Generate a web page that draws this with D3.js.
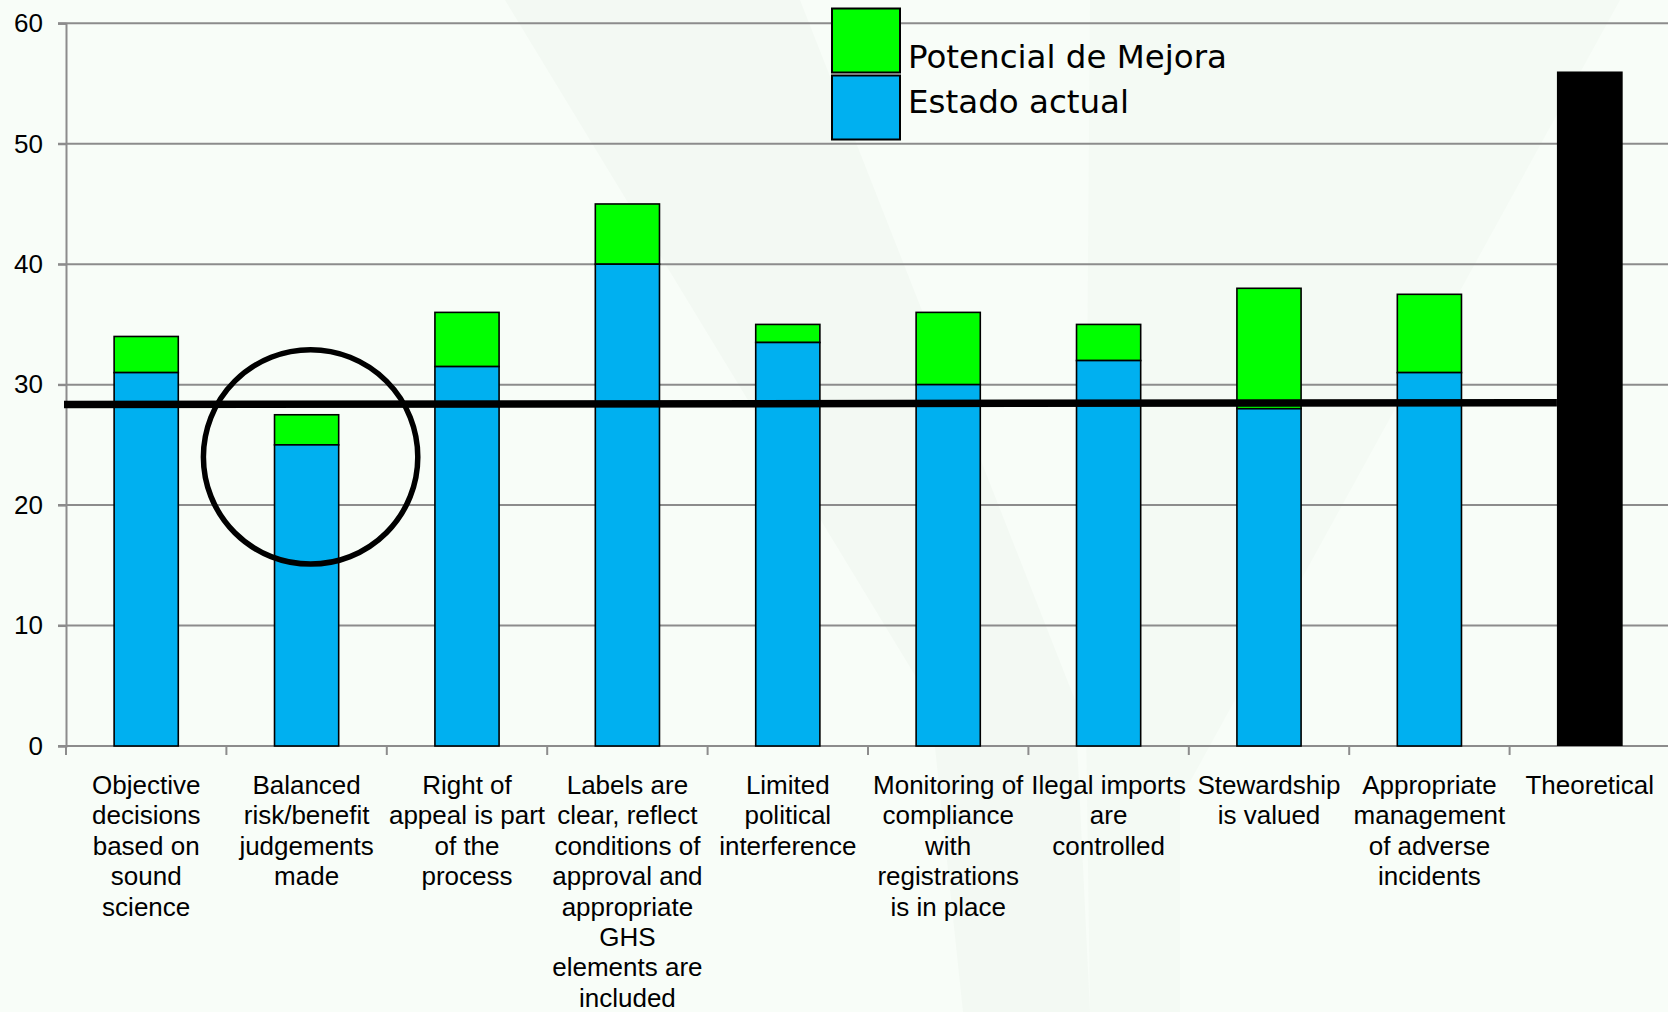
<!DOCTYPE html>
<html>
<head>
<meta charset="utf-8">
<script src="https://cdn.jsdelivr.net/npm/d3@7"></script>
<style>
  html, body { margin: 0; padding: 0; background: #f8fdf8; }
  svg { display: block; }
</style>
</head>
<body>
<svg id="chart" width="1668" height="1012"></svg>
<script>
// ---- data ----
const categories = [
  ["Objective", "decisions", "based on", "sound", "science"],
  ["Balanced", "risk/benefit", "judgements", "made"],
  ["Right of", "appeal is part", "of the", "process"],
  ["Labels are", "clear, reflect", "conditions of", "approval and", "appropriate", "GHS", "elements are", "included"],
  ["Limited", "political", "interference"],
  ["Monitoring of", "compliance", "with", "registrations", "is in place"],
  ["Ilegal imports", "are", "controlled"],
  ["Stewardship", "is valued"],
  ["Appropriate", "management", "of adverse", "incidents"],
  ["Theoretical"]
];
const estadoActual = [31, 25, 31.5, 40, 33.5, 30, 32, 28, 31, null];
const totalConMejora = [34, 27.5, 36, 45, 35, 36, 35, 38, 37.5, null];
const theoretical = [null, null, null, null, null, null, null, null, null, 56];
const yTicks = [0, 10, 20, 30, 40, 50, 60];
const legendLabels = ["Potencial de Mejora", "Estado actual"];
const referenceLine = [28.35, 28.5];   // value at start and end of the black line
const circleNote = { index: 1, value: 24, radius: 8.9 };

// ---- layout ----
const svg = d3.select("#chart");
const W = 1668, H = 1012;
const mLeft = 66, mTop = 23.3, mBottom = 746;
const bandW = 160.4;

// faint watermark
svg.append("path")
  .attr("d", "M505,0 L800,0 L1075,700 L1090,1012 L963,1012 L930,700 Z")
  .attr("fill", "#f3f9f3");
svg.append("path")
  .attr("d", "M1090,0 L1620,0 L1180,800 L1180,1012 L1090,1012 L1085,650 Z")
  .attr("fill", "#f4faf4");

const x = d3.scaleBand()
  .domain(d3.range(categories.length))
  .range([mLeft, mLeft + bandW * categories.length])
  .padding(0);
const y = d3.scaleLinear().domain([0, 60]).range([mBottom, mTop]);
const bw = x.bandwidth();

// gridlines
svg.append("g").selectAll("line")
  .data(yTicks.filter(t => t > 0))
  .join("line")
  .attr("x1", mLeft - 8).attr("x2", W)
  .attr("y1", d => y(d)).attr("y2", d => y(d))
  .attr("stroke", "#8c8c8c").attr("stroke-width", 2);

// y axis
const yAxis = svg.append("g")
  .attr("transform", `translate(${mLeft},0)`)
  .call(d3.axisLeft(y).tickValues(yTicks).tickSize(8).tickPadding(15));
yAxis.select(".domain").attr("stroke", "#8c8c8c").attr("stroke-width", 2);
yAxis.selectAll(".tick line").attr("stroke", "#8c8c8c").attr("stroke-width", 2);
yAxis.selectAll(".tick text")
  .attr("font-family", "'Liberation Sans', Arial, sans-serif")
  .attr("font-size", 26).attr("fill", "#000");

// x axis
const xAxis = svg.append("g").attr("transform", `translate(0,${mBottom})`);
xAxis.append("line").attr("x1", mLeft - 8).attr("x2", W)
  .attr("y1", 0).attr("y2", 0).attr("stroke", "#8c8c8c").attr("stroke-width", 2);
xAxis.selectAll("line.tk")
  .data(d3.range(categories.length))
  .join("line").attr("class", "tk")
  .attr("x1", d => x(d)).attr("x2", d => x(d))
  .attr("y1", 0).attr("y2", 9)
  .attr("stroke", "#8c8c8c").attr("stroke-width", 2);

const labels = svg.append("g")
  .attr("font-family", "'Liberation Sans', Arial, sans-serif")
  .attr("font-size", 26).attr("fill", "#000").attr("text-anchor", "middle");
categories.forEach((lines, i) => {
  const t = labels.append("text")
    .attr("x", x(i) + bw / 2)
    .attr("y", 794);
  lines.forEach((ln, k) => {
    t.append("tspan").attr("x", x(i) + bw / 2).attr("dy", k === 0 ? 0 : 30.4).text(ln);
  });
});

// bars
const barW = bw * 0.4;
const bars = svg.append("g");
// green (total)
bars.selectAll("rect.g")
  .data(totalConMejora.map((v, i) => ({ v, i })).filter(d => d.v != null))
  .join("rect").attr("class", "g")
  .attr("x", d => x(d.i) + (bw - barW) / 2)
  .attr("width", barW)
  .attr("y", d => y(d.v))
  .attr("height", d => y(estadoActual[d.i]) - y(d.v))
  .attr("fill", "#00ff00").attr("stroke", "#000").attr("stroke-width", 1.6);
// blue (estado actual)
bars.selectAll("rect.b")
  .data(estadoActual.map((v, i) => ({ v, i })).filter(d => d.v != null))
  .join("rect").attr("class", "b")
  .attr("x", d => x(d.i) + (bw - barW) / 2)
  .attr("width", barW)
  .attr("y", d => y(d.v))
  .attr("height", d => y(0) - y(d.v))
  .attr("fill", "#00b0f0").attr("stroke", "#000").attr("stroke-width", 1.6);
// theoretical
const thW = bw * 0.41;
bars.selectAll("rect.t")
  .data(theoretical.map((v, i) => ({ v, i })).filter(d => d.v != null))
  .join("rect").attr("class", "t")
  .attr("x", d => x(d.i) + (bw - thW) / 2)
  .attr("width", thW)
  .attr("y", d => y(d.v))
  .attr("height", d => y(0) - y(d.v))
  .attr("fill", "#000");

// reference line
const lineEndX = x(categories.length - 1) + (bw - thW) / 2;
svg.append("line")
  .attr("x1", mLeft - 2).attr("x2", lineEndX)
  .attr("y1", y(referenceLine[0])).attr("y2", y(referenceLine[1]))
  .attr("stroke", "#000").attr("stroke-width", 7.5);

// circle annotation
svg.append("circle")
  .attr("cx", x(circleNote.index) + bw / 2 + 4)
  .attr("cy", y(circleNote.value))
  .attr("r", y(0) - y(circleNote.radius))
  .attr("fill", "none").attr("stroke", "#000").attr("stroke-width", 5.5);

// legend
const lg = svg.append("g");
const legColors = ["#00ff00", "#00b0f0"];
lg.selectAll("rect")
  .data(legendLabels)
  .join("rect")
  .attr("x", 832).attr("y", (d, i) => 8.5 + i * 67)
  .attr("width", 68).attr("height", 64)
  .attr("fill", (d, i) => legColors[i])
  .attr("stroke", "#000").attr("stroke-width", 2);
lg.selectAll("text")
  .data(legendLabels)
  .join("text")
  .attr("x", 908).attr("y", (d, i) => 68 + i * 45)
  .attr("font-family", "'DejaVu Sans', Verdana, sans-serif")
  .attr("font-size", 32.5).attr("fill", "#000")
  .text(d => d);
</script>
</body>
</html>
